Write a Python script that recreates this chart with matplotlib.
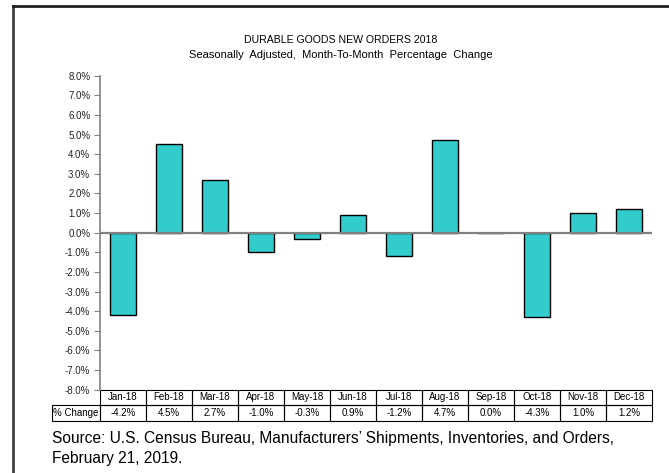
import matplotlib
matplotlib.use("Agg")
import matplotlib.pyplot as plt
from matplotlib.patches import Rectangle
from matplotlib.lines import Line2D
import matplotlib.transforms as mtransforms

plt.rcParams['font.family'] = ['Liberation Sans', 'DejaVu Sans']

# data
months = ['Jan-18', 'Feb-18', 'Mar-18', 'Apr-18', 'May-18', 'Jun-18',
          'Jul-18', 'Aug-18', 'Sep-18', 'Oct-18', 'Nov-18', 'Dec-18']
pct_change = [-4.2, 4.5, 2.7, -1.0, -0.3, 0.9, -1.2, 4.7, 0.0, -4.3, 1.0, 1.2]
yticks = [-8, -7, -6, -5, -4, -3, -2, -1, 0, 1, 2, 3, 4, 5, 6, 7, 8]
row_label = '% Change'

W, H = 669, 473
fig = plt.figure(figsize=(W / 100, H / 100), dpi=100)

# axes placed in pixels
x0, x1 = 100, 652
y_top, y_bot = 75.7, 389.7
ax = fig.add_axes([x0 / W, 1 - y_bot / H, (x1 - x0) / W, (y_bot - y_top) / H])

x = list(range(len(months)))
ax.bar(x, pct_change, width=0.55, color='#33CCCC', edgecolor='black', linewidth=1, zorder=3)
ax.axhline(0, color='#808080', linewidth=1.6, zorder=4)

ax.set_xlim(-0.5, len(months) - 0.5)
ax.set_ylim(-8, 8)
ax.set_yticks(yticks)
ax.set_yticklabels(['%.1f%%' % v for v in yticks], fontsize=7, color='#222222')
ax.tick_params(axis='y', direction='out', length=4, color='#808080', pad=3)
ax.set_xticks([])
for s in ['top', 'right', 'bottom']:
    ax.spines[s].set_visible(False)
ax.spines['left'].set_color('#808080')
ax.spines['left'].set_linewidth(1.2)

# data table under the plot (x in data units, y in axes fraction)
trans = mtransforms.blended_transform_factory(ax.transData, ax.transAxes)
ph = y_bot - y_top
row_h = 15.5 / ph
label_w = 48 / ((x1 - x0) / len(months))
for i, m in enumerate(months):
    ax.add_patch(Rectangle((i - 0.5, -row_h), 1, row_h, transform=trans, fill=False,
                           edgecolor='black', linewidth=0.8, clip_on=False))
    ax.text(i, -row_h / 2, m, transform=trans, ha='center', va='center', fontsize=7)
    ax.add_patch(Rectangle((i - 0.5, -2 * row_h), 1, row_h, transform=trans, fill=False,
                           edgecolor='black', linewidth=0.8, clip_on=False))
    ax.text(i, -1.5 * row_h, '%.1f%%' % pct_change[i], transform=trans,
            ha='center', va='center', fontsize=7)
ax.add_patch(Rectangle((-0.5 - label_w, -2 * row_h), label_w, row_h, transform=trans,
                       fill=False, edgecolor='black', linewidth=0.8, clip_on=False))
ax.text(-0.5 - label_w / 2, -1.5 * row_h, row_label, transform=trans,
        ha='center', va='center', fontsize=7)

# titles
fig.text(341 / W, 1 - 40 / H, 'DURABLE GOODS NEW ORDERS 2018', ha='center', va='center', fontsize=7.6)
fig.text(341 / W, 1 - 55 / H, 'Seasonally  Adjusted,  Month-To-Month  Percentage  Change',
         ha='center', va='center', fontsize=8.0)

# source note
fig.text(52 / W, 1 - 438 / H,
         'Source: U.S. Census Bureau, Manufacturers\u2019 Shipments, Inventories, and Orders,',
         ha='left', va='center', fontsize=11.2)
fig.text(52 / W, 1 - 458 / H, 'February 21, 2019.', ha='left', va='center', fontsize=11.2)

# outer frame (left and top edges)
fig.add_artist(Line2D([13 / W, 13 / W], [0, 1 - 6.5 / H], transform=fig.transFigure,
                      color='#404040', linewidth=2))
fig.add_artist(Line2D([13 / W, 1], [1 - 6.5 / H, 1 - 6.5 / H], transform=fig.transFigure,
                      color='#202020', linewidth=2))

fig.savefig('out.png', dpi=100)
